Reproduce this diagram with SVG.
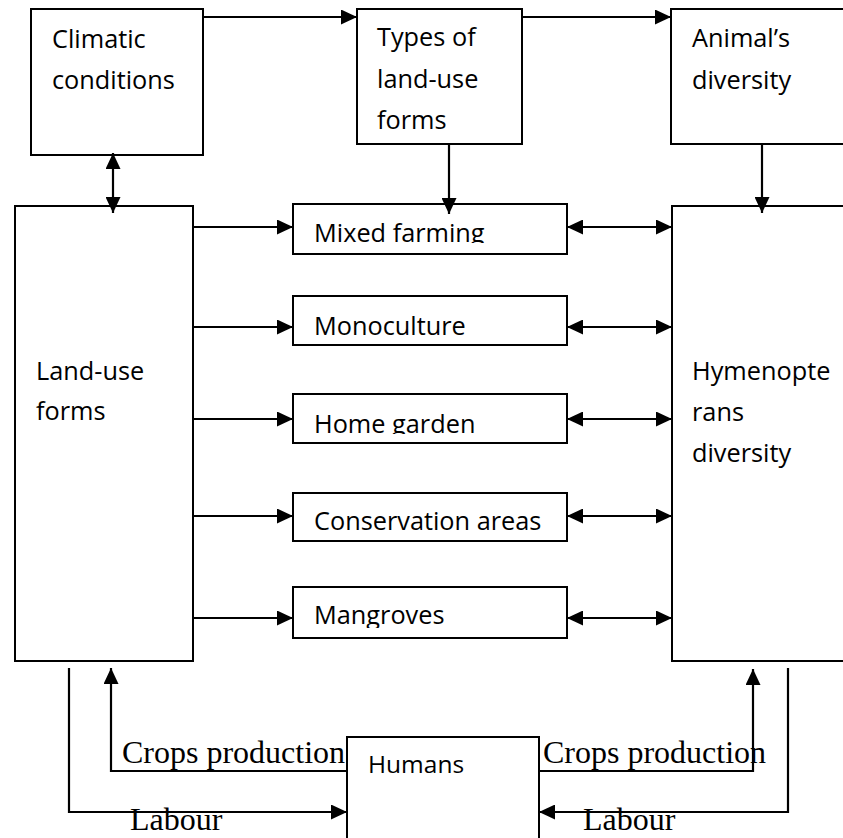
<svg xmlns="http://www.w3.org/2000/svg" width="843" height="838" viewBox="0 0 843 838">
<style>
.box{fill:#fff;stroke:#000;stroke-width:2}
.t{font-family:"Open Sans","Liberation Sans",sans-serif;font-size:25.3px;fill:#000}
.s{font-family:"Liberation Serif","Times New Roman",serif;font-size:32px;fill:#000}
.c line,.c polyline{fill:none;stroke:#000;stroke-width:2.2}
.a{marker-end:url(#ah)}
.d{marker-end:url(#ah);marker-start:url(#ah)}
</style>
<defs>
<marker id="ah" viewBox="0 0 16 15" refX="16" refY="7.5" markerWidth="16" markerHeight="15" markerUnits="userSpaceOnUse" orient="auto-start-reverse">
<path d="M0,0 L16,7.5 L0,15 Z" fill="#000"/>
</marker>
<clipPath id="cMix"><rect x="293" y="204" width="274" height="39"/></clipPath>
<clipPath id="cHome"><rect x="293" y="394" width="274" height="40"/></clipPath>
<clipPath id="cCons"><rect x="293" y="493" width="274" height="38.5"/></clipPath>
<clipPath id="cMang"><rect x="293" y="587" width="274" height="41"/></clipPath>
</defs>
<rect width="843" height="838" fill="#fff"/>

<g id="climatic">
<rect class="box" x="31" y="9" width="172" height="146"/>
<text class="t" x="52" y="48">Climatic</text>
<text class="t" x="52" y="89">conditions</text>
</g>
<g id="types">
<rect class="box" x="357" y="9" width="165" height="135"/>
<text class="t" x="377" y="46">Types of</text>
<text class="t" x="377" y="88">land-use</text>
<text class="t" x="377" y="129">forms</text>
</g>
<g id="animal">
<rect class="box" x="671" y="9" width="180" height="135"/>
<text class="t" x="692" y="47">Animal’s</text>
<text class="t" x="692" y="89">diversity</text>
</g>
<g id="landuse">
<rect class="box" x="15" y="206" width="178" height="455"/>
<text class="t" x="36" y="380">Land-use</text>
<text class="t" x="36" y="420">forms</text>
</g>
<g id="hymenopterans">
<rect class="box" x="672" y="206" width="180" height="455"/>
<text class="t" x="692" y="380">Hymenopte</text>
<text class="t" x="692" y="421">rans</text>
<text class="t" x="692" y="462">diversity</text>
</g>
<g id="mixed">
<rect class="box" x="293" y="204" width="274" height="50"/>
<text class="t" x="314" y="242" clip-path="url(#cMix)">Mixed farming</text>
</g>
<g id="monoculture">
<rect class="box" x="293" y="296" width="274" height="49"/>
<text class="t" x="314" y="335">Monoculture</text>
</g>
<g id="homegarden">
<rect class="box" x="293" y="394" width="274" height="49"/>
<text class="t" x="314" y="433" clip-path="url(#cHome)">Home garden</text>
</g>
<g id="conservation">
<rect class="box" x="293" y="493" width="274" height="48"/>
<text class="t" x="314" y="530" clip-path="url(#cCons)">Conservation areas</text>
</g>
<g id="mangroves">
<rect class="box" x="293" y="587" width="274" height="51"/>
<text class="t" x="314" y="624" clip-path="url(#cMang)">Mangroves</text>
</g>
<g id="humans">
<rect class="box" x="347" y="737" width="192" height="102"/>
<text class="t" x="368" y="773" style="font-size:24.5px">Humans</text>
</g>

<g id="connectors" class="c">
<line class="a" x1="203" y1="17" x2="357" y2="17"/>
<line class="a" x1="522" y1="17" x2="671" y2="17"/>
<line class="d" x1="113" y1="153" x2="113" y2="213"/>
<line class="a" x1="449" y1="144" x2="449" y2="214"/>
<line class="a" x1="762" y1="144" x2="762" y2="213"/>
<line class="a" x1="193" y1="227" x2="293" y2="227"/>
<line class="a" x1="193" y1="327" x2="293" y2="327"/>
<line class="a" x1="193" y1="419" x2="293" y2="419"/>
<line class="a" x1="193" y1="516" x2="293" y2="516"/>
<line class="a" x1="193" y1="618" x2="293" y2="618"/>
<line class="d" x1="567" y1="227" x2="672" y2="227"/>
<line class="d" x1="567" y1="327" x2="672" y2="327"/>
<line class="d" x1="567" y1="419" x2="672" y2="419"/>
<line class="d" x1="567" y1="516" x2="672" y2="516"/>
<line class="d" x1="567" y1="618" x2="672" y2="618"/>
<polyline class="a" points="347,771 111,771 111,668"/>
<polyline class="a" points="69,668 69,812 347,812"/>
<polyline class="a" points="539,771 753,771 753,669"/>
<polyline class="a" points="788,668 788,812 539,812"/>
</g>
<g id="labels">
<text class="s" x="122" y="763">Crops production</text>
<text class="s" x="130" y="830">Labour</text>
<text class="s" x="543" y="763">Crops production</text>
<text class="s" x="583" y="830">Labour</text>
</g>
</svg>
